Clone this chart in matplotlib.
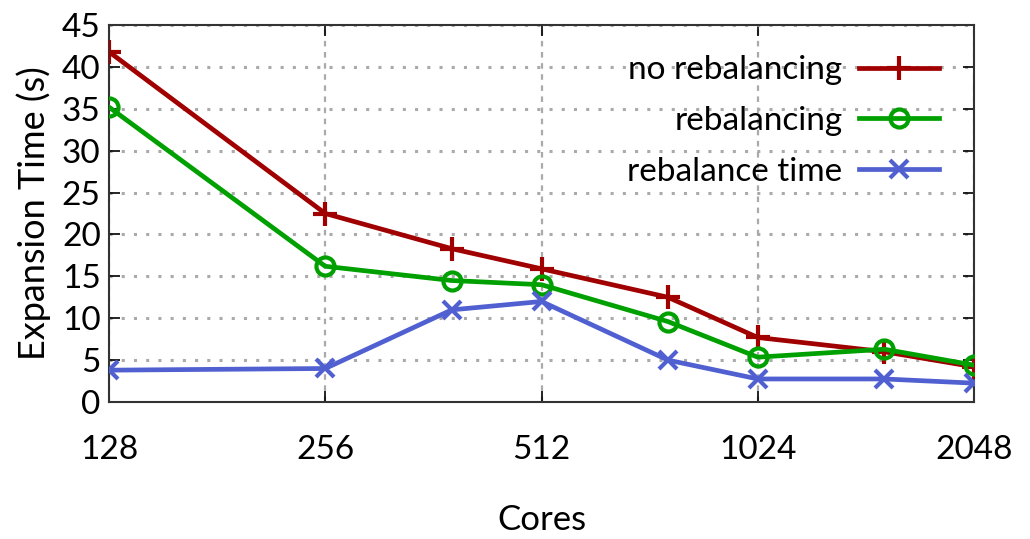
import matplotlib
matplotlib.use("Agg")
import matplotlib.pyplot as plt
from matplotlib.ticker import FixedLocator, NullLocator

plt.rcParams['font.family'] = ['Lato', 'DejaVu Sans']

cores = [128, 256, 384, 512, 768, 1024, 1536, 2048]
no_rebalancing = [41.8, 22.5, 18.3, 15.9, 12.5, 7.7, 6.0, 4.2]
rebalancing = [35.2, 16.2, 14.5, 14.0, 9.6, 5.35, 6.3, 4.4]
rebalance_time = [3.8, 4.0, 11.0, 12.0, 5.0, 2.75, 2.75, 2.25]
xticks = [128, 256, 512, 1024, 2048]
yticks = list(range(0, 46, 5))

fig = plt.figure(figsize=(10.3, 5.39), dpi=100)
ax = fig.add_axes([109/1030, 1-402/539, (974-109)/1030, (402-25)/539])

lw = 3.4
ax.plot(cores, no_rebalancing, color='#a00000', lw=lw, marker='+', ms=17, mew=3,
        label='no rebalancing', zorder=3)
ax.plot(cores, rebalancing, color='#00a000', lw=lw, marker='o', ms=13, mew=3,
        mfc='none', label='rebalancing', zorder=3)
ax.plot(cores, rebalance_time, color='#5060d0', lw=lw, marker='x', ms=13, mew=3,
        label='rebalance time', zorder=3)

ax.set_xscale('log', base=2)
ax.set_xlim(128, 2048)
ax.set_ylim(0, 45)
ax.xaxis.set_major_locator(FixedLocator(xticks))
ax.xaxis.set_minor_locator(NullLocator())
ax.set_xticklabels([str(v) for v in xticks])
ax.set_yticks(yticks)

ax.grid(True, axis='y', color='#aaaaaa', linestyle=(0, (1, 3)), lw=2.2)
ax.grid(True, axis='x', color='#aaaaaa', linestyle=(0, (2.5, 2.5)), lw=1.6)

ax.tick_params(axis='both', direction='in', length=8, width=1.2, labelsize=24,
               top=True, right=True)
ax.tick_params(axis='x', pad=24)
ax.tick_params(axis='y', pad=6)
for s in ax.spines.values():
    s.set_linewidth(1.5)
    s.set_color('#333333')

ax.set_xlabel('Cores', fontsize=25, labelpad=28)
ax.set_ylabel('Expansion Time (s)', fontsize=26, labelpad=8)

leg = ax.legend(loc='upper right', frameon=False, markerfirst=False, numpoints=1,
                fontsize=24, handlelength=2.4, handletextpad=0.5, labelspacing=0.62,
                bbox_to_anchor=(0.975, 0.955), borderaxespad=0)

fig.savefig('out.png', dpi=100)
